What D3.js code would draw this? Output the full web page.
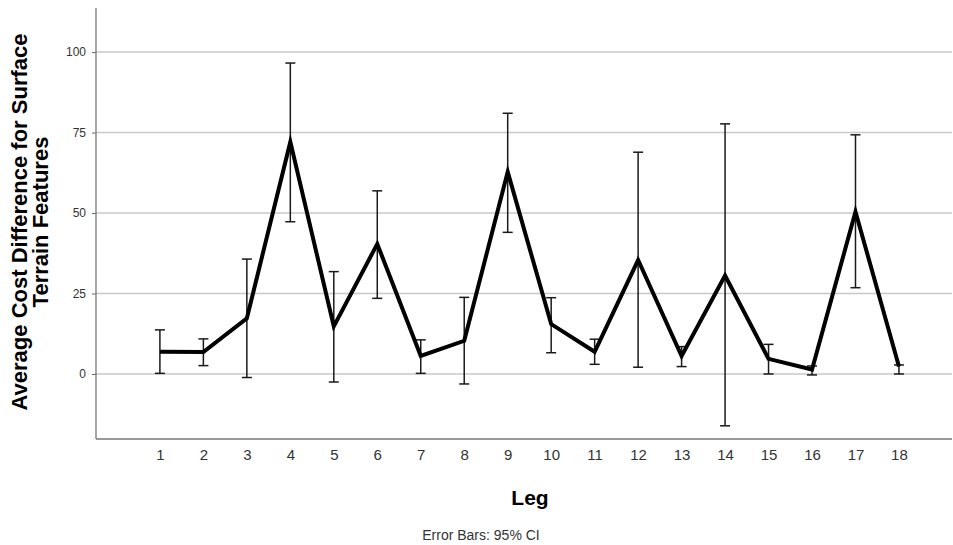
<!DOCTYPE html>
<html>
<head>
<meta charset="utf-8">
<script src="https://cdn.jsdelivr.net/npm/d3@7"></script>
<style>
  html, body { margin: 0; padding: 0; background: #fff; }
  svg { display: block; font-family: "Liberation Sans", Arial, sans-serif; }
</style>
</head>
<body>
<svg id="chart" width="953" height="545"></svg>
<script>
const legs = [1, 2, 3, 4, 5, 6, 7, 8, 9, 10, 11, 12, 13, 14, 15, 16, 17, 18];
const means = [6.9, 6.8, 17.3, 72.1, 14.8, 40.4, 5.6, 10.3, 62.8, 15.5, 6.9, 35.4, 5.6, 30.6, 4.7, 1.4, 50.4, 2.3];
const ciLow = [0.2, 2.6, -1.1, 47.3, -2.5, 23.5, 0.2, -3.1, 44.0, 6.6, 3.0, 2.1, 2.3, -16.1, 0.0, -0.3, 26.8, 0.0];
const ciHigh = [13.7, 10.9, 35.7, 96.6, 31.8, 56.9, 10.6, 23.8, 81.0, 23.7, 10.8, 68.9, 8.5, 77.7, 9.2, 2.5, 74.3, 2.8];
const yTicks = [0, 25, 50, 75, 100];
const yLabelLines = ["Average Cost Difference for Surface", "Terrain Features"];
const xTitle = "Leg";
const footnote = "Error Bars: 95% CI";

const svg = d3.select("#chart");
const pLeft = 96, pRight = 952, pTop = 8, pBottom = 439;

const x = d3.scaleLinear().domain([-0.47, 19.22]).range([pLeft, pRight]);
const y = d3.scaleLinear().domain([-20.2, 113.7]).range([pBottom, pTop]);

// gridlines
svg.append("g").selectAll("line").data(yTicks).join("line")
  .attr("x1", pLeft).attr("x2", pRight)
  .attr("y1", d => y(d)).attr("y2", d => y(d))
  .attr("stroke", "#c8c8c8").attr("stroke-width", 1.5);

// y axis
const yAxis = svg.append("g").attr("transform", `translate(${pLeft},0)`)
  .call(d3.axisLeft(y).tickValues(yTicks).tickSize(4).tickPadding(6).tickFormat(d3.format("d")));
yAxis.select(".domain").remove();
yAxis.selectAll(".tick line").attr("stroke", "#666");
yAxis.selectAll(".tick text").attr("fill", "#333").style("font-size", "12px")
  .style("font-family", "'Liberation Sans', Arial, sans-serif");
svg.append("line").attr("x1", pLeft).attr("x2", pLeft).attr("y1", pTop).attr("y2", pBottom)
  .attr("stroke", "#777").attr("stroke-width", 1.3);

// x axis
const xAxis = svg.append("g").attr("transform", `translate(0,${pBottom})`)
  .call(d3.axisBottom(x).tickValues(legs).tickSize(0).tickPadding(10).tickFormat(d3.format("d")));
xAxis.select(".domain").remove();
xAxis.selectAll(".tick text").attr("fill", "#333").style("font-size", "15px")
  .style("font-family", "'Liberation Sans', Arial, sans-serif");
svg.append("line").attr("x1", pLeft).attr("x2", pRight).attr("y1", pBottom).attr("y2", pBottom)
  .attr("stroke", "#777").attr("stroke-width", 1.3);

// error bars
const eb = svg.append("g").attr("stroke", "#1a1a1a").attr("stroke-width", 1.5);
legs.forEach((l, i) => {
  const cx = x(l);
  eb.append("line").attr("x1", cx).attr("x2", cx).attr("y1", y(ciLow[i])).attr("y2", y(ciHigh[i]));
  eb.append("line").attr("x1", cx - 5).attr("x2", cx + 5).attr("y1", y(ciLow[i])).attr("y2", y(ciLow[i]));
  eb.append("line").attr("x1", cx - 5).attr("x2", cx + 5).attr("y1", y(ciHigh[i])).attr("y2", y(ciHigh[i]));
});

// mean line
const line = d3.line().x((d, i) => x(legs[i])).y(d => y(d));
svg.append("path").datum(means).attr("d", line)
  .attr("fill", "none").attr("stroke", "#000").attr("stroke-width", 4)
  .attr("stroke-linejoin", "miter").attr("stroke-miterlimit", 10);

// y label
const yl = svg.append("text").attr("transform", "translate(0,222) rotate(-90)")
  .attr("text-anchor", "middle").style("font-size", "22px").style("font-weight", "bold").attr("fill", "#000");
yl.append("tspan").attr("x", 0).attr("y", 27).text(yLabelLines[0]);
yl.append("tspan").attr("x", 0).attr("y", 48).text(yLabelLines[1]);

// x title
svg.append("text").attr("x", 530).attr("y", 505).attr("text-anchor", "middle")
  .style("font-size", "21px").style("font-weight", "bold").attr("fill", "#000").text(xTitle);

// footnote
svg.append("text").attr("x", 481).attr("y", 540).attr("text-anchor", "middle")
  .style("font-size", "14px").attr("fill", "#333").text(footnote);
</script>
</body>
</html>
